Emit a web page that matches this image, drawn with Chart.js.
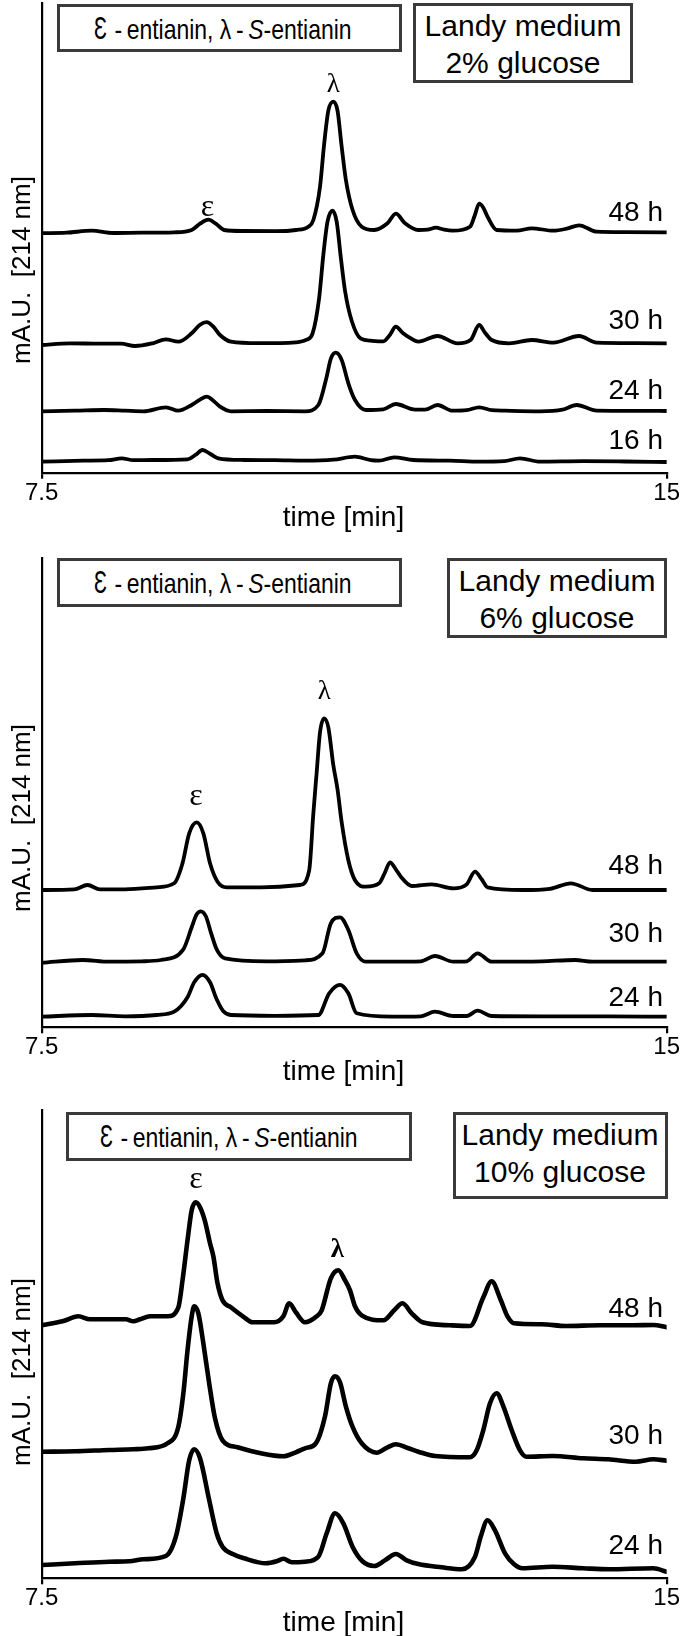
<!DOCTYPE html>
<html><head><meta charset="utf-8">
<script src="https://cdn.jsdelivr.net/npm/chart.js@4.4.1/dist/chart.umd.min.js"></script>
<style>
html,body{margin:0;padding:0;background:#fff;}
body{width:680px;height:1636px;position:relative;overflow:hidden;font-family:"Liberation Sans",Arial,sans-serif;color:#000;}
.cv{position:absolute;left:0;}
.box{position:absolute;border:3px solid #3a3a3a;box-sizing:border-box;background:#fff;text-align:center;white-space:nowrap;}
.b1{font-size:28px;line-height:42px;}
.b1 span{display:inline-block;transform:scaleX(0.82);transform-origin:left center;}
.b1 .E{font-size:32px;}
.b2{font-size:30px;line-height:37px;padding-top:1px;}
.t{position:absolute;white-space:nowrap;}
.hr{font-size:28px;line-height:31px;text-align:right;}
.yt{font-size:26px;line-height:30px;width:260px;text-align:center;transform:rotate(-90deg);white-space:pre;}
.xt{font-size:28px;line-height:32px;width:200px;text-align:center;}
.pk{font-family:"Liberation Serif","DejaVu Serif",serif;line-height:30px;width:40px;text-align:center;}
</style></head>
<body>
<script>
// ---- DATA (time [min], signal height incl. stacking offset) ----
const X_TICKS = [7.5, 15];
const LABELS_HOURS_P1 = ["48 h","30 h","24 h","16 h"];
const LABELS_HOURS_P2 = ["48 h","30 h","24 h"];
const LABELS_HOURS_P3 = ["48 h","30 h","24 h"];
const GLUCOSE = ["2% glucose","6% glucose","10% glucose"];

// Panel 1: 2% glucose
const P1_48 = [[7.50,239.5],[7.80,240],[8.10,242],[8.36,239.7],[8.70,240],[9.09,240.4],[9.30,242.7],[9.40,249],[9.50,253],[9.59,249],[9.69,242.7],[9.93,241.7],[10.30,241.5],[10.55,242.7],[10.70,246],[10.76,252.7],[10.84,286],[10.89,329],[10.94,362],[11.00,371],[11.05,362],[11.10,326],[11.15,293],[11.23,263],[11.34,246],[11.49,242.7],[11.65,249.4],[11.75,259],[11.86,249.4],[12.02,242.7],[12.13,243],[12.23,245],[12.33,243],[12.43,242],[12.64,246],[12.70,258],[12.75,269],[12.80,265],[12.85,256],[12.96,242.7],[13.20,242],[13.38,244.4],[13.64,242],[13.80,244],[13.95,247.4],[14.16,241],[14.50,240.5],[15.00,240.4]];
const P1_30 = [[7.50,127.7],[7.84,129.4],[8.20,129],[8.45,129],[8.62,126.7],[8.83,129.4],[8.99,133.4],[9.14,131],[9.30,139.4],[9.40,148],[9.48,150.5],[9.56,146],[9.64,137.7],[9.77,131],[10.10,129.5],[10.55,130.4],[10.68,133],[10.75,139],[10.83,175],[10.88,218],[10.93,251],[10.99,262],[11.04,251],[11.09,215],[11.14,182],[11.22,152],[11.33,134],[11.45,132],[11.60,131.4],[11.68,138],[11.75,146],[11.83,140],[11.91,135.4],[12.02,131],[12.25,136.7],[12.49,129.4],[12.65,133],[12.75,147.7],[12.82,140],[12.90,132.7],[13.11,129.4],[13.38,132.7],[13.64,130],[13.95,136.7],[14.16,130],[14.60,129.5],[15.00,129.4]];
const P1_24 = [[7.50,61.4],[7.90,62],[8.25,62.7],[8.50,62],[8.72,61.4],[8.99,65.4],[9.14,62],[9.30,67.7],[9.40,73],[9.48,76],[9.56,72],[9.64,66],[9.77,61.4],[10.20,61.7],[10.66,61.4],[10.82,67.7],[10.92,96],[10.97,114],[11.03,120],[11.10,112.7],[11.18,89.4],[11.26,72.7],[11.39,62.7],[11.60,63.4],[11.75,68.7],[11.96,63.4],[12.10,63],[12.25,67.7],[12.43,62],[12.60,62.5],[12.75,65.4],[12.90,62.5],[13.06,62],[13.48,61.4],[13.75,63],[13.92,67.7],[14.16,62],[14.60,61.8],[15.00,61.7]];
const P1_16 = [[7.50,11],[8.00,12],[8.30,12.5],[8.46,14.4],[8.60,12.5],[8.83,12.7],[9.25,13.4],[9.35,18],[9.43,22.7],[9.52,19],[9.62,14.4],[9.93,12.7],[10.30,12.5],[10.66,12],[11.00,13],[11.26,16],[11.45,12.5],[11.55,12],[11.73,15.4],[11.96,12.7],[12.40,12],[12.75,11],[13.05,11.5],[13.24,14.4],[13.48,11],[14.00,11.5],[14.50,11.2],[15.00,10.7]];

// Panel 2: 6% glucose
const P2_48 = [[7.50,137.3],[7.89,137.9],[8.05,142.3],[8.20,137.9],[8.50,138],[8.88,140],[9.09,144],[9.19,164],[9.27,194],[9.36,205],[9.44,194],[9.52,164],[9.61,145.6],[9.72,140],[10.13,140],[10.60,142.3],[10.71,157],[10.76,214],[10.80,255],[10.84,295],[10.89,309],[10.94,300],[11.00,262],[11.05,238],[11.10,205],[11.18,167],[11.26,147],[11.39,140.6],[11.55,144],[11.62,155],[11.68,165],[11.75,158],[11.81,150.6],[11.94,141.3],[12.18,143],[12.44,139],[12.60,143],[12.70,155.6],[12.78,148],[12.85,140],[13.27,137.3],[13.60,138.5],[13.85,144],[14.11,137.3],[14.50,137.3],[15.00,137.3]];
const P2_30 = [[7.50,64.6],[7.99,67.3],[8.31,65.6],[8.70,66],[8.93,67.3],[9.20,78],[9.30,100],[9.36,113],[9.41,116],[9.47,111],[9.53,95],[9.60,78],[9.70,69],[10.20,66],[10.66,67],[10.87,74],[10.97,104],[11.08,110],[11.18,97.3],[11.28,74],[11.39,65.6],[11.70,65.6],[12.05,66],[12.22,71.3],[12.44,65.6],[12.60,66],[12.73,74],[12.90,65.6],[13.50,66],[13.90,67.3],[14.11,65.6],[15.00,65.6]];
const P2_24 = [[7.50,10.6],[8.10,12.3],[8.50,11],[8.88,12.3],[9.09,15.6],[9.25,30],[9.33,45],[9.43,52.5],[9.52,45],[9.60,28],[9.68,16],[9.77,12.3],[10.30,11.5],[10.82,12.3],[10.95,34],[11.08,42.5],[11.18,34],[11.28,14],[11.70,10.6],[12.05,11],[12.22,15.6],[12.44,11.3],[12.60,11.3],[12.73,16.6],[12.90,11.3],[13.50,11],[14.30,11],[15.00,10.6]];

// Panel 3: 10% glucose
const P3_48 = [[7.50,253],[7.75,257],[7.94,262],[8.08,259],[8.20,259],[8.51,259],[8.60,257],[8.68,259],[8.80,262],[9.01,262],[9.14,271],[9.19,298],[9.25,338],[9.30,368],[9.35,376],[9.40,371],[9.46,357],[9.52,335],[9.56,322],[9.61,295],[9.67,278],[9.77,271],[9.93,261],[10.03,256],[10.29,256],[10.40,262],[10.47,275],[10.55,266],[10.66,256],[10.80,262],[10.86,268],[10.97,300],[11.06,308],[11.14,298],[11.20,288],[11.26,272],[11.34,263],[11.60,258],[11.73,268],[11.83,275],[11.94,265],[12.07,256],[12.40,253],[12.64,252.3],[12.80,281],[12.90,297],[13.01,278],[13.09,262],[13.17,255],[13.50,254],[13.79,252.3],[14.20,253],[14.60,253],[14.84,253.3],[15.00,251]];
const P3_30 = [[7.50,126.6],[7.90,127],[8.31,128.3],[8.60,129],[8.78,130],[9.01,135],[9.14,151.6],[9.20,185],[9.25,228],[9.30,262],[9.33,272],[9.38,265],[9.44,235],[9.51,195],[9.58,160],[9.67,138],[9.85,131],[10.13,125],[10.40,122],[10.55,126],[10.66,130],[10.79,135],[10.90,162],[10.97,195],[11.02,202],[11.08,196],[11.15,172],[11.23,151.6],[11.34,135],[11.52,125.6],[11.65,131],[11.75,134],[11.90,130],[12.02,126.6],[12.22,122.3],[12.64,121],[12.72,128],[12.80,148.3],[12.88,175],[12.96,185],[13.04,172],[13.14,148.3],[13.24,128],[13.32,121.6],[13.63,122.3],[14.00,120],[14.30,119],[14.63,116.6],[14.84,119],[15.00,117.6]];
const P3_24 = [[7.50,13.3],[7.90,15],[8.31,16.6],[8.55,17],[8.72,19],[8.99,22.3],[9.11,41.6],[9.20,80],[9.27,118],[9.33,129],[9.40,120],[9.51,78.3],[9.60,45],[9.67,31.6],[9.80,24],[9.93,20],[10.19,15],[10.32,17],[10.40,19.5],[10.50,16],[10.66,16.6],[10.82,21.6],[10.92,45],[11.02,65],[11.12,55],[11.23,31.6],[11.35,17],[11.49,12.3],[11.62,18],[11.75,24.3],[11.88,18],[12.02,14.3],[12.30,11],[12.54,9],[12.70,21.6],[12.77,42],[12.85,58],[12.94,48],[13.06,25],[13.17,14],[13.27,10],[13.63,11.6],[14.00,10],[14.31,9],[14.84,10],[15.00,6.6]];

// peak annotations: [symbol, time, height]
const PEAKS_P1 = [["ε",9.49,267.7],["λ",11.0,389.7]];
const PEAKS_P2 = [["ε",9.35,233.3],["λ",10.89,337.3]];
const PEAKS_P3 = [["ε",9.35,401.3],["λ",11.05,330.3]];

// ---- LAYOUT ----
const PANELS = [
  {top:0, H:509, padTop:3, axisY:472.7, lw:3.8, series:[P1_48,P1_30,P1_24,P1_16], hours:LABELS_HOURS_P1, hourBase:[222,330,400,450], peaks:PEAKS_P1, bold:false,
   box1:[56.7,4,345,48], box2:[413,3,220,80], glu:GLUCOSE[0], ytY:270, xtY:517},
  {top:548, H:515, padTop:10, axisY:1027.3, lw:3.8, series:[P2_48,P2_30,P2_24], hours:LABELS_HOURS_P2, hourBase:[875,943,1007], peaks:PEAKS_P2, bold:false,
   box1:[56.7,558,345,49], box2:[447,558,220,80], glu:GLUCOSE[1], ytY:818, xtY:1071},
  {top:1100, H:515, padTop:10, axisY:1578.3, lw:4.6, series:[P3_48,P3_30,P3_24], hours:LABELS_HOURS_P3, hourBase:[1318,1445,1555], peaks:PEAKS_P3, bold:true,
   box1:[66,1112,346,49], box2:[452.5,1112,215,87], glu:GLUCOSE[2], ytY:1372, xtY:1622}
];

function el(cls, html, css){const d=document.createElement('div');d.className=cls;d.innerHTML=html;Object.assign(d.style,css);document.body.appendChild(d);return d;}

PANELS.forEach(p=>{
  const cv=document.createElement('canvas');
  cv.width=680; cv.height=p.H; cv.className='cv'; cv.style.top=p.top+'px';
  document.body.appendChild(cv);
  const xH = p.top + p.H - p.axisY;
  const ymax = p.axisY - (p.top + p.padTop);
  const chart = new Chart(cv,{
    type:'line',
    data:{datasets:p.series.map(s=>({data:s.map(q=>({x:q[0],y:q[1]})),borderColor:'#000',borderWidth:p.lw,pointRadius:0,fill:false,cubicInterpolationMode:'monotone',borderJoinStyle:'round',borderCapStyle:'round'}))},
    options:{responsive:false,animation:false,events:[],
      layout:{padding:{top:p.padTop,right:12.5,left:0,bottom:0}},
      plugins:{legend:{display:false},tooltip:{enabled:false}},
      scales:{
        x:{type:'linear',min:7.5,max:15,
          afterBuildTicks:s=>{s.ticks=X_TICKS.map(v=>({value:v}));},
          afterFit:s=>{s.height=xH;},
          border:{display:true,color:'#000',width:2.2},
          grid:{display:true,drawOnChartArea:false,drawTicks:true,tickLength:6,color:'#000',lineWidth:2.2},
          ticks:{color:'#000',font:{family:'Liberation Sans',size:24},padding:0,maxRotation:0,autoSkip:false,callback:v=>String(v)}},
        y:{type:'linear',min:0,max:ymax,
          afterFit:s=>{s.width=41.7;},
          border:{display:true,color:'#000',width:2.2},
          grid:{display:false},ticks:{display:false}}
      }}
  });
  // hour labels
  p.hours.forEach((h,i)=>{ el('t hr',h,{left:'560px',width:'103px',top:(p.hourBase[i]-0.92*28)+'px'}); });
  // peak labels
  p.peaks.forEach(k=>{
    const px=chart.scales.x.getPixelForValue(k[1]);
    const py=chart.scales.y.getPixelForValue(k[2])+p.top;
    el('t pk',k[0],{left:(px-20)+'px',top:(py-15)+'px',fontSize:(k[0]==='ε'?'32px':'27px'),fontWeight:(p.bold&&k[0]==='λ')?'bold':'normal'});
  });
  // boxes
  const b1=p.box1, b2=p.box2;
  el('box b1','<span><span class="E">Ɛ</span>\u2009-\u2009entianin, λ\u2009-\u2009<i>S</i>-entianin</span>',{left:b1[0]+'px',top:b1[1]+'px',width:b1[2]+'px',height:b1[3]+'px',textAlign:'left',paddingLeft:(b1[0]<60?34:31)+'px'});
  el('box b2','Landy medium<br>'+p.glu,{left:b2[0]+'px',top:b2[1]+'px',width:b2[2]+'px',height:b2[3]+'px'});
  // axis titles
  el('t yt','mA.U.  [214 nm]',{left:(21-130)+'px',top:(p.ytY-15)+'px'});
  el('t xt','time [min]',{left:(343.5-100)+'px',top:(p.xtY-16)+'px'});
});
</script>
</body></html>
